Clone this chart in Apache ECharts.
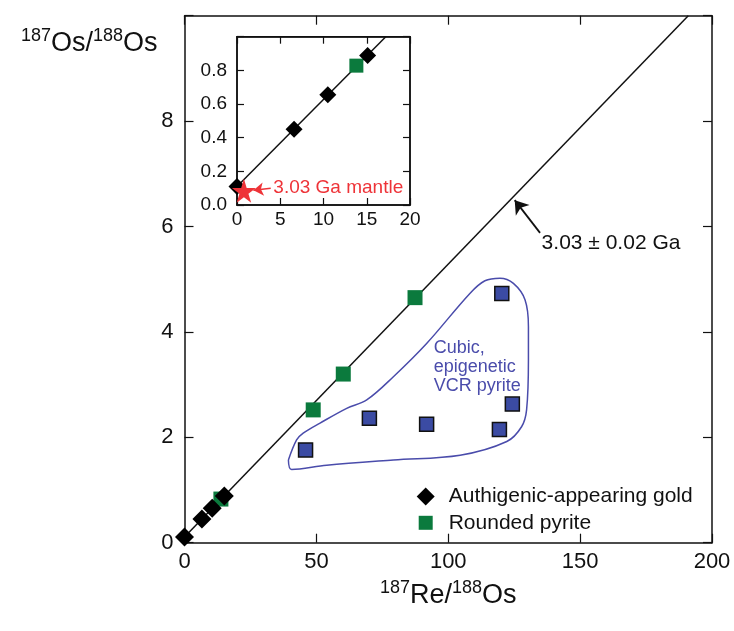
<!DOCTYPE html>
<html>
<head>
<meta charset="utf-8">
<script src="https://cdn.jsdelivr.net/npm/echarts@6/dist/echarts.min.js"></script>
<style>
  html, body { margin: 0; padding: 0; background: #fff; }
  #chart { width: 734px; height: 631px; }
</style>
</head>
<body>
<div id="chart"></div>
<script>
// data: [187Re/188Os, 187Os/188Os]
const goldPts = [[0, 0.11], [6.6, 0.45], [10.5, 0.655], [15.1, 0.888]]
const roundedPts = [[13.8, 0.828], [48.8, 2.52], [60.2, 3.2], [87.4, 4.65]]
const cubicPts = [[45.9, 1.76], [70.1, 2.36], [91.8, 2.25], [119.4, 2.15], [124.3, 2.63], [120.3, 4.73]]
const mantlePt = [[0.8, 0.085]]

// 3.03 Ga isochron
const isoMain = [[0, 0.11], [191, 10]]
const isoInset = [[0, 0.11], [17.2, 1.0]]

// hand-drawn field around cubic pyrite
const fieldPts = [
  [39.4, 1.57], [40.6, 1.39], [53.9, 1.47], [79.2, 1.57], [104.5, 1.66], [122.2, 1.92],
  [127.8, 2.2], [129.7, 2.52], [130.4, 3.47], [130.4, 4.1], [129.1, 4.61], [124.7, 4.92],
  [119.6, 5.02], [113.9, 4.97], [108.2, 4.73], [91.8, 3.78], [79.2, 3.15], [69.1, 2.71],
  [61.5, 2.55], [51.4, 2.27], [45.0, 2.08], [42.5, 1.95], [39.4, 1.57]
]

const mainXTicks = { min: 0, max: 200, interval: 50 }
const mainYTicks = { min: 0, max: 10, interval: 2 }
const insetXTicks = { min: 0, max: 20, interval: 5 }
const insetYTicks = { min: 0, max: 1, interval: 0.2 }

const FONT = 'Liberation Sans, Arial, Helvetica, sans-serif'
const GREEN = '#0b7a3d'
const BLUE = '#3b4ba3'
const RED = '#ee3338'
const STAR = 'path://M50,0 L61,35 L98,35 L68,57 L79,91 L50,70 L21,91 L32,57 L2,35 L39,35 Z'

const chart = echarts.init(document.getElementById('chart'))

// one axis helper, ticks inside like the figure
const axis = (ticks, opt) => Object.assign({
  type: 'value',
  min: ticks.min,
  max: ticks.max,
  interval: ticks.interval,
  splitLine: { show: false },
  axisLine: { show: true, onZero: false, lineStyle: { color: '#111', width: 1.5 } },
  axisTick: { show: true, inside: true, length: 9, lineStyle: { color: '#111', width: 1.2 } },
  axisLabel: { show: false }
}, opt)

const lbl = (size, margin, fmt) => ({
  show: true, fontFamily: FONT, fontSize: size, color: '#111', margin: margin, formatter: fmt
})

const richTitle = {
  big: { fontSize: 27, fontFamily: FONT, color: '#111', verticalAlign: 'bottom', lineHeight: 30 },
  sup: { fontSize: 18, fontFamily: FONT, color: '#111', verticalAlign: 'top', lineHeight: 18 }
}

// text placed at a data point, no symbol
const note = (xi, yi, pt, text, size, color, extra) => ({
  type: 'scatter', xAxisIndex: xi, yAxisIndex: yi, data: [pt],
  symbolSize: 0, silent: true, z: 13,
  itemStyle: { opacity: 1 },
  label: Object.assign({
    show: true, position: 'right', distance: 0, formatter: text,
    fontFamily: FONT, fontSize: size, color: color, opacity: 1
  }, extra)
})

const option = {
  animation: false,
  backgroundColor: '#fff',
  grid: [
    { left: 184.5, top: 15.7, right: 22, bottom: 88.3, show: false },
    { left: 237, top: 36.7, right: 324, bottom: 426, show: true, backgroundColor: '#fff', borderColor: '#111', borderWidth: 1.5, z: 5 }
  ],
  xAxis: [
    axis(mainXTicks, {
      gridIndex: 0, position: 'bottom',
      axisLabel: lbl(22, 8),
      name: '{sup|187}{big|Re/}{sup|188}{big|Os}',
      nameLocation: 'middle', nameGap: 36,
      nameTextStyle: { fontFamily: FONT, color: '#111', rich: richTitle }
    }),
    axis(mainXTicks, { gridIndex: 0, position: 'top' }),
    axis(insetXTicks, {
      gridIndex: 1, position: 'bottom', z: 6,
      axisTick: { show: true, inside: true, length: 7, lineStyle: { color: '#111', width: 1.2 } },
      axisLabel: lbl(19, 5)
    }),
    axis(insetXTicks, {
      gridIndex: 1, position: 'top', z: 6,
      axisTick: { show: true, inside: true, length: 7, lineStyle: { color: '#111', width: 1.2 } }
    })
  ],
  yAxis: [
    axis(mainYTicks, {
      gridIndex: 0, position: 'left',
      axisLabel: lbl(22, 11, v => (v === 10 ? '' : v)),
      name: '{sup|187}{big|Os/}{sup|188}{big|Os}',
      nameLocation: 'end', nameGap: -41,
      nameTextStyle: {
        align: 'right', padding: [0, 27, 0, 0],
        fontFamily: FONT, color: '#111', rich: richTitle
      }
    }),
    axis(mainYTicks, { gridIndex: 0, position: 'right' }),
    axis(insetYTicks, {
      gridIndex: 1, position: 'left', z: 6,
      axisTick: { show: true, inside: true, length: 7, lineStyle: { color: '#111', width: 1.2 } },
      axisLabel: lbl(19, 10, v => (v >= 1 ? '' : v.toFixed(1)))
    }),
    axis(insetYTicks, {
      gridIndex: 1, position: 'right', z: 6,
      axisTick: { show: true, inside: true, length: 7, lineStyle: { color: '#111', width: 1.2 } }
    })
  ],
  legend: [
    {
      left: 416.7, top: 486, orient: 'vertical', padding: 0,
      itemWidth: 18, itemHeight: 18,
      data: [{ name: 'Authigenic-appearing gold', icon: 'diamond' }],
      textStyle: { fontFamily: FONT, fontSize: 21, color: '#111', padding: [0, 0, 0, 9] },
      selectedMode: false
    },
    {
      left: 418.7, top: 512.3, orient: 'vertical', padding: 0,
      itemWidth: 14, itemHeight: 14,
      data: [{ name: 'Rounded pyrite', icon: 'rect' }],
      textStyle: { fontFamily: FONT, fontSize: 21, color: '#111', padding: [0, 0, 0, 11] },
      selectedMode: false
    }
  ],
  series: [
    // main panel
    {
      type: 'line', xAxisIndex: 0, yAxisIndex: 0, data: isoMain,
      symbol: 'none', lineStyle: { color: '#111', width: 1.5 }, z: 1,
      markLine: {
        silent: true, symbol: ['none', 'arrow'], symbolSize: 13,
        lineStyle: { color: '#111', width: 1.8, type: 'solid', opacity: 1 },
        itemStyle: { color: '#111' },
        label: { show: false },
        data: [[{ coord: [134.8, 5.88] }, { coord: [125.2, 6.5] }]]
      }
    },
    {
      type: 'line', xAxisIndex: 0, yAxisIndex: 0, data: fieldPts,
      symbol: 'none', smooth: 0.35, lineStyle: { color: '#4a4cab', width: 1.5 }, z: 1
    },
    {
      name: 'Rounded pyrite', type: 'scatter', xAxisIndex: 0, yAxisIndex: 0,
      data: roundedPts, symbol: 'rect', symbolSize: 15,
      itemStyle: { color: GREEN, opacity: 1 }, z: 2
    },
    {
      name: 'Cubic pyrite', type: 'scatter', xAxisIndex: 0, yAxisIndex: 0,
      data: cubicPts, symbol: 'rect', symbolSize: 14,
      itemStyle: { color: BLUE, borderColor: '#111', borderWidth: 1.5, opacity: 1 }, z: 2
    },
    {
      name: 'Authigenic-appearing gold', type: 'scatter', xAxisIndex: 0, yAxisIndex: 0,
      data: goldPts, symbol: 'diamond', symbolSize: 19,
      itemStyle: { color: '#000', opacity: 1 }, z: 3
    },
    note(0, 0, [135.4, 5.69], '3.03 ± 0.02 Ga', 21, '#111'),
    note(0, 0, [94.5, 3.33], 'Cubic,\nepigenetic\nVCR pyrite', 18, '#4a4cab', { align: 'left', lineHeight: 19 }),
    // inset
    {
      type: 'line', xAxisIndex: 2, yAxisIndex: 2, data: isoInset,
      symbol: 'none', lineStyle: { color: '#111', width: 1.5 }, z: 10,
      markLine: {
        silent: true, symbol: ['none', 'arrow'], symbolSize: 10,
        lineStyle: { color: RED, width: 1.5, type: 'solid', opacity: 1 },
        itemStyle: { color: RED },
        label: { show: false },
        data: [[{ coord: [3.9, 0.1] }, { coord: [1.9, 0.088] }]]
      }
    },
    {
      name: 'Rounded pyrite', type: 'scatter', xAxisIndex: 2, yAxisIndex: 2,
      data: roundedPts, symbol: 'rect', symbolSize: 14,
      itemStyle: { color: GREEN, opacity: 1 }, z: 11
    },
    {
      name: 'Authigenic-appearing gold', type: 'scatter', xAxisIndex: 2, yAxisIndex: 2,
      data: goldPts, symbol: 'diamond', symbolSize: 17,
      itemStyle: { color: '#000', opacity: 1 }, z: 12
    },
    {
      type: 'scatter', xAxisIndex: 2, yAxisIndex: 2, data: mantlePt,
      symbol: STAR, symbolSize: 24, itemStyle: { color: RED, opacity: 1 }, z: 13
    },
    note(2, 2, [4.2, 0.1], '3.03 Ga mantle', 19, RED)
  ]
}

chart.setOption(option)
</script>
</body>
</html>
